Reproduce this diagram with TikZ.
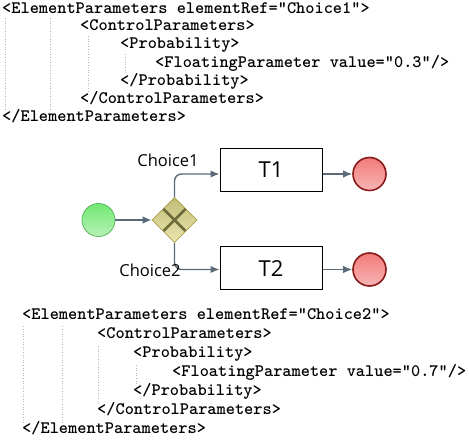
\documentclass[tikz,border=0pt]{standalone}
\usepackage{fontspec}
\usepackage{tikz}
\usetikzlibrary{calc,arrows.meta,shapes.geometric}
\newfontfamily\bpmnfont{Open Sans}
\definecolor{flowgray}{HTML}{5A6A78}
\definecolor{startfill}{HTML}{7EE67E}
\definecolor{startline}{HTML}{5CB85C}
\definecolor{gatefill}{HTML}{DCD67A}
\definecolor{gateline}{HTML}{A89E40}
\definecolor{gatecross}{HTML}{6E6C3A}
\definecolor{endfill}{HTML}{F27A7A}
\definecolor{endline}{HTML}{8B1A1A}
\tikzset{
  xml/.style   = {anchor=base west, inner sep=0pt,
                  font=\ttfamily\bfseries\fontsize{17.5}{18}\selectfont},
  guide/.style = {draw=gray!55, dotted, line width=0.6pt},
  flow/.style  = {draw=flowgray, line width=1.4pt,
                  -{Latex[length=9pt,width=7.5pt]}},
  startev/.style = {circle, draw=startline, line width=0.8pt,
                  top color=startfill!90!green, bottom color=startfill!55!white,
                  minimum size=33pt, inner sep=0pt},
  endev/.style = {circle, draw=endline, line width=1.6pt,
                  top color=endfill, bottom color=endfill!55!white,
                  minimum size=33pt, inner sep=0pt},
  gate/.style  = {diamond, draw=gateline, line width=0.8pt,
                  top color=gatefill!85!black!90, bottom color=gatefill!60!white,
                  minimum size=45pt, inner sep=0pt},
  task/.style  = {rectangle, draw=black, line width=1pt, fill=white,
                  minimum width=102pt, minimum height=43pt,
                  font=\bpmnfont\fontsize{22}{24}\selectfont},
  flowlabel/.style = {inner sep=0pt, font=\bpmnfont\fontsize{16.5}{18}\selectfont}
}
\begin{document}
\begin{tikzpicture}[x=1pt,y=-1pt]
  \useasboundingbox (0,0) rectangle (469,446);

  % upper parameter block
  \node[xml] (p1a) at (2,13.5)   {<ElementParameters elementRef="Choice1">};
  \node[xml] (p1b) at (80,31)    {<ControlParameters>};
  \node[xml] (p1c) at (120,49)   {<Probability>};
  \node[xml] (p1d) at (155,67.5) {<FloatingParameter value="0.3"/>};
  \node[xml] (p1e) at (120,86)   {</Probability>};
  \node[xml] (p1f) at (80,104)   {</ControlParameters>};
  \node[xml] (p1g) at (2,122)    {</ElementParameters>};
  \draw[guide] (5,18) -- (5,110);
  \draw[guide] (50,18) -- (50,110);
  \draw[guide] (88,36) -- (88,92);
  \draw[guide] (125,54) -- (125,73);

  % process
  \node[startev] (start) at (98.5,220) {};
  \node[gate] (gw) at (174.5,220) {};
  \draw[line width=2.6pt, draw=gatecross]
        ($(gw)+(-11,-11)$) -- ($(gw)+(11,11)$)
        ($(gw)+(-11,11)$) -- ($(gw)+(11,-11)$);
  \node[task] (t1) at (271,170) {T1};
  \node[task] (t2) at (271,268.5) {T2};
  \node[endev] (end1) at (369.5,174) {};
  \node[endev] (end2) at (369.5,269.5) {};

  \draw[flow] (start) -- (gw);
  \draw[flow, rounded corners=7pt] (gw.north) |- (t1.west |- end1);
  \draw[flow, rounded corners=7pt] (gw.south) |- (t2.west |- end2);
  \draw[flow] (t1.east |- end1) -- (end1);
  \draw[flow] (t2.east |- end2) -- (end2);
  \node[flowlabel] (choice1) at (168,160) {Choice1};
  \node[flowlabel] (choice2) at (150,270) {Choice2};

  % lower parameter block
  \node[xml] (p2a) at (22,320)  {<ElementParameters elementRef="Choice2">};
  \node[xml] (p2b) at (97,339)  {<ControlParameters>};
  \node[xml] (p2c) at (133,358) {<Probability>};
  \node[xml] (p2d) at (172,377) {<FloatingParameter value="0.7"/>};
  \node[xml] (p2e) at (133,396) {</Probability>};
  \node[xml] (p2f) at (97,415)  {</ControlParameters>};
  \node[xml] (p2g) at (22,434)  {</ElementParameters>};
  \draw[guide] (23,326) -- (23,424);
  \draw[guide] (62,326) -- (62,424);
  \draw[guide] (98,346) -- (98,404);
  \draw[guide] (136,365) -- (136,385);
\end{tikzpicture}
\end{document}
